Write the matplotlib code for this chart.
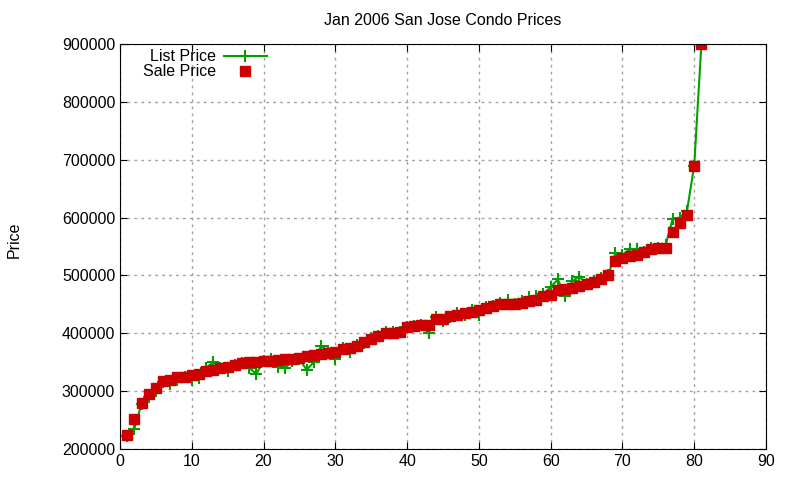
import matplotlib
matplotlib.use("Agg")
import matplotlib.pyplot as plt
import numpy as np

plt.rcParams['font.family'] = ['Liberation Sans', 'DejaVu Sans']

# condo index (sorted by sale price)
idx = list(range(1, 82))

sale_price = [
    224000, 252000, 280000, 295000, 305000, 318000, 320000, 325000, 325000, 328000,
    330000, 335000, 337000, 340000, 342000, 345000, 348000, 350000, 350000, 352000,
    352000, 354000, 355000, 355000, 357000, 360000, 362000, 365000, 366000, 368000,
    372000, 375000, 378000, 385000, 390000, 395000, 400000, 400000, 402000, 410000,
    413000, 415000, 415000, 425000, 425000, 430000, 432000, 435000, 437000, 440000,
    443000, 448000, 450000, 450000, 450000, 452000, 455000, 457000, 465000, 467000,
    475000, 476000, 478000, 482000, 485000, 488000, 493000, 500000, 525000, 530000,
    533000, 535000, 540000, 545000, 547000, 548000, 575000, 590000, 605000, 690000,
    900000,
]

list_price = [
    222000, 235000, 278000, 290000, 300000, 315000, 312000, 320000, 325000, 320000,
    322000, 340000, 350000, 340000, 335000, 345000, 348000, 340000, 330000, 352000,
    355000, 342000, 340000, 352000, 355000, 337000, 350000, 378000, 370000, 355000,
    375000, 368000, 380000, 383000, 392000, 395000, 402000, 402000, 402000, 410000,
    412000, 415000, 400000, 428000, 422000, 428000, 435000, 432000, 440000, 432000,
    445000, 448000, 452000, 458000, 450000, 455000, 462000, 465000, 468000, 480000,
    493000, 465000, 490000, 498000, 485000, 490000, 495000, 500000, 538000, 535000,
    545000, 545000, 540000, 548000, 548000, 552000, 598000, 600000, 612000, 690000,
    900000,
]

fig = plt.figure(figsize=(8, 4.8), dpi=100)
ax = fig.add_axes([0.15, 0.0646, 0.8075, 0.8437])

ax.plot(idx, list_price, color='#00a000', linewidth=1.5, marker='+',
        markersize=8, markeredgewidth=1.5, label='List Price')
ax.plot(idx, sale_price, linestyle='none', color='#cc0000', marker='s',
        markersize=6.5, label='Sale Price')

ax.set_xlim(0, 90)
ax.set_ylim(200000, 900000)
ax.set_xticks(np.arange(0, 91, 10))
ax.set_yticks(np.arange(200000, 900001, 100000))
ax.tick_params(direction='in', top=True, right=True, labelsize=11.5, length=5)
ax.grid(True, color='#a0a0a0', linestyle=(0, (2, 3)), linewidth=1)

ax.set_title('Jan 2006 San Jose Condo Prices', fontsize=11.5, pad=14)
fig.text(0.018, 0.5, 'Price', rotation=90, va='center', ha='center', fontsize=11.5)

leg = ax.legend(loc='upper left', markerfirst=False, frameon=False, fontsize=11.5,
                bbox_to_anchor=(0.018, 1.015), handlelength=2.7, borderpad=0.2,
                labelspacing=0.0, handletextpad=0.5)
for t in leg.get_texts():
    t.set_ha('right')
    t.set_position((0, 0))
leg._legend_box.align = 'right'

fig.savefig('out.png', dpi=100)
